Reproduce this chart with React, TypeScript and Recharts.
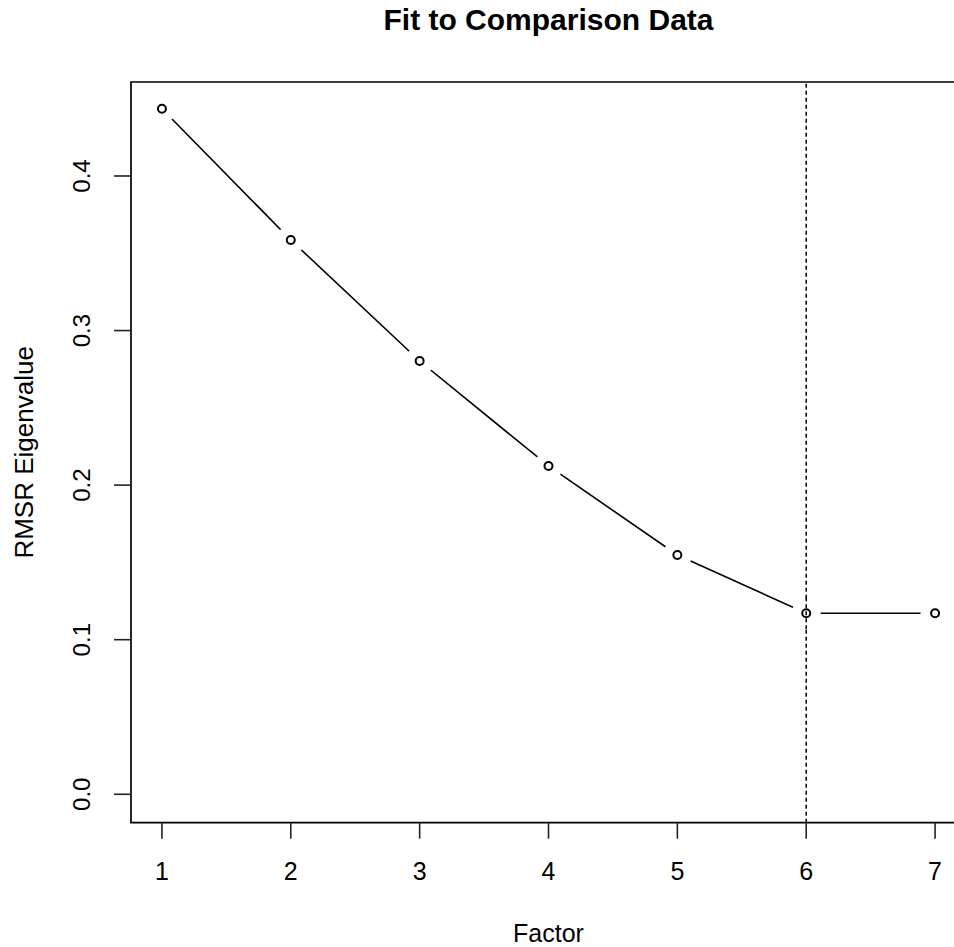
import React from "react";
import { LineChart, Line, XAxis, YAxis, ReferenceLine, ReferenceArea } from "recharts";

// ---- data ----
const factors = [1, 2, 3, 4, 5, 6, 7];
const rmsrEigenvalues = [0.4435, 0.3586, 0.2803, 0.2124, 0.1548, 0.1171, 0.1171];
const xTicks = [1, 2, 3, 4, 5, 6, 7];
const yTicks = [0, 0.1, 0.2, 0.3, 0.4];
const yTickLabels = ["0.0", "0.1", "0.2", "0.3", "0.4"];
const cutoffFactor = 6;
const titleText = "Fit to Comparison Data";
const xLabelText = "Factor";
const yLabelText = "RMSR Eigenvalue";

const data = factors.map((f, i) => ({ factor: f, rmsr: rmsrEigenvalues[i] }));

// ---- layout ----
const W = 954;
const H = 947;
const CHART_W = 980;
const LEFT = 131;
const TOP = 82;
const RIGHT = 14;
const BOTTOM_Y = 822.7;
const BOTTOM = H - BOTTOM_Y;
const Y_AXIS_W = 60;
const X_AXIS_H = 60;
const XDOM: [number, number] = [0.76, 7.24];
const YDOM: [number, number] = [-0.0184, 0.4608];
const FONT = "'Liberation Sans', Arial, Helvetica, sans-serif";
const INK = "#000";
const AXIS_INK = "#222";

const YTick = (props: any) => {
  const { y, payload } = props;
  const idx = yTicks.indexOf(payload.value);
  const label = idx >= 0 ? yTickLabels[idx] : String(payload.value);
  return (
    <g>
      <line x1={LEFT - 17} x2={LEFT} y1={y} y2={y} stroke={AXIS_INK} strokeWidth={1.6} />
      <text
        x={82}
        y={y}
        transform={`rotate(-90, 82, ${y})`}
        textAnchor="middle"
        dominantBaseline="central"
        fontFamily={FONT}
        fontSize={24}
        fill={INK}
      >
        {label}
      </text>
    </g>
  );
};

const XTick = (props: any) => {
  const { x, payload } = props;
  return (
    <g>
      <line x1={x} x2={x} y1={BOTTOM_Y} y2={BOTTOM_Y + 16} stroke={AXIS_INK} strokeWidth={1.6} />
      <text x={x} y={880} textAnchor="middle" fontFamily={FONT} fontSize={25} fill={INK}>
        {payload.value}
      </text>
    </g>
  );
};

const Dot = (props: any) => {
  const { cx, cy, payload, index } = props;
  if (cx == null || cy == null) return <g key={`d${index}`} />;
  return (
    <g key={`d${index}`}>
      <circle cx={cx} cy={cy} r={14.5} fill="#fff" stroke="none" />
      {payload.factor === cutoffFactor ? (
        <line x1={cx} x2={cx} y1={cy - 16} y2={cy + 16} stroke={INK} strokeWidth={1.5} strokeDasharray="4 3" />
      ) : null}
      <circle cx={cx} cy={cy} r={4} fill="none" stroke={INK} strokeWidth={2} />
    </g>
  );
};

export default function App() {
  const plotCenterX = LEFT + (CHART_W - LEFT - RIGHT) / 2;
  const plotCenterY = (TOP + BOTTOM_Y) / 2;
  return (
    <div
      style={{
        position: "absolute",
        left: 0,
        top: 0,
        width: W,
        height: H,
        overflow: "hidden",
        background: "#fff",
      }}
    >
      <LineChart
        width={CHART_W}
        height={H}
        data={data}
        margin={{ top: TOP, left: LEFT - Y_AXIS_W, right: RIGHT, bottom: BOTTOM - X_AXIS_H }}
      >
        <XAxis
          dataKey="factor"
          type="number"
          domain={XDOM}
          ticks={xTicks}
          allowDataOverflow
          axisLine={false}
          tickLine={false}
          tick={<XTick />}
          height={X_AXIS_H}
          interval={0}
        />
        <YAxis
          type="number"
          domain={YDOM}
          ticks={yTicks}
          allowDataOverflow
          axisLine={false}
          tickLine={false}
          tick={<YTick />}
          width={Y_AXIS_W}
          interval={0}
        />
        <ReferenceArea
          x1={XDOM[0]}
          x2={XDOM[1]}
          y1={YDOM[0]}
          y2={YDOM[1]}
          fill="none"
          fillOpacity={0}
          stroke={INK}
          strokeWidth={1.7}
          ifOverflow="visible"
        />
        <ReferenceLine
          x={cutoffFactor}
          stroke={INK}
          strokeWidth={1.5}
          strokeDasharray="4 3"
          ifOverflow="visible"
        />
        <Line
          dataKey="rmsr"
          stroke={INK}
          strokeWidth={1.6}
          dot={Dot}
          activeDot={false}
          isAnimationActive={false}
          type="linear"
        />
      </LineChart>
      <svg
        width={W}
        height={H}
        style={{ position: "absolute", left: 0, top: 0, pointerEvents: "none" }}
      >
        <text
          x={plotCenterX}
          y={30}
          textAnchor="middle"
          fontFamily={FONT}
          fontWeight="bold"
          fontSize={30}
          fill={INK}
        >
          {titleText}
        </text>
        <text
          x={plotCenterX}
          y={942}
          textAnchor="middle"
          fontFamily={FONT}
          fontSize={25}
          fill={INK}
        >
          {xLabelText}
        </text>
        <text
          x={33}
          y={plotCenterY}
          transform={`rotate(-90, 33, ${plotCenterY})`}
          textAnchor="middle"
          fontFamily={FONT}
          fontSize={26}
          fill={INK}
        >
          {yLabelText}
        </text>
      </svg>
    </div>
  );
}
